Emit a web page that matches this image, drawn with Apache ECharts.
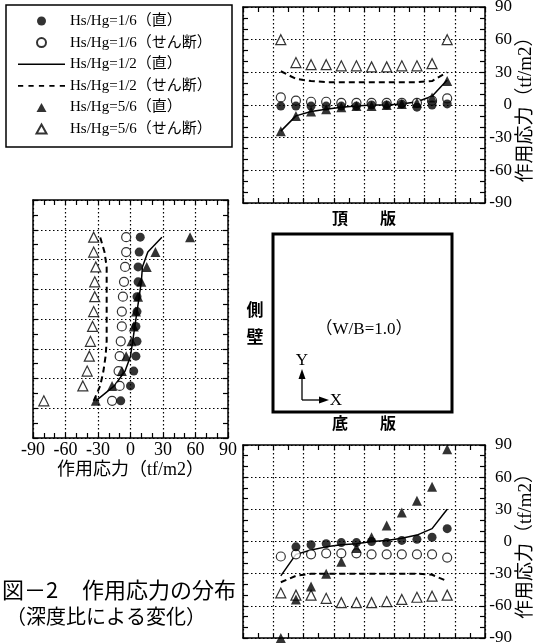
<!DOCTYPE html>
<html><head><meta charset="utf-8">
<script src="https://cdn.jsdelivr.net/npm/echarts@6/dist/echarts.min.js"></script>
<style>html,body{margin:0;padding:0;background:#fff}#c{width:537px;height:644px}</style>
</head><body><div id="c"></div>
<script>
// ---- data ----
const seriesNames = ['Hs/Hg=1/6（直）','Hs/Hg=1/6（せん断）','Hs/Hg=1/2（直）','Hs/Hg=1/2（せん断）','Hs/Hg=5/6（直）','Hs/Hg=5/6（せん断）'];
const positions = [2.5,3.5,4.5,5.5,6.5,7.5,8.5,9.5,10.5,11.5,12.5,13.5];
const stressMin = -90, stressMax = 90, stressStep = 30;
const posMin = 0, posMax = 16, posStep = 2;

// 頂版 (top slab), left -> right
const topHs16Direct = [-1,-1,-1,-1,-1,-1,0,0,1,-2,0,1];
const topHs16Shear  = [7,4,3,3,2,2,2,2,2,2,4,6];
const topHs12Direct = [-24,-10,-6,-4,-2,-1,0,0,1,3,8,23];
const topHs12Shear  = [31,24,22,21,21,21,21,21,21,21,22,30];
const topHs56Direct = [-24,-10,-6,-4,-2,-1,-1,0,1,2,7,22];
const topHs56Shear  = [60,39,37,37,36,36,35,35,36,36,38,60];

// 側壁 (side wall), bottom -> top
const sideHs16Direct = [-9,0,3,5,6,5,6,6,7,7,8,9];
const sideHs16Shear  = [-17,-10,-11,-10,-9,-8,-8,-7,-6,-5,-4,-4];
const sideHs12Direct = [-32,-15,-5,0,2,4,6,8,10,11,16,29];
const sideHs12Shear  = [-34,-28,-25,-23,-22,-22,-22,-22,-22,-22,-24,-28];
const sideHs56Direct = [-32,-17,-8,-4,1,3,5,7,10,15,23,55];
const sideHs56Shear  = [-80,-44,-40,-38,-37,-35,-34,-33,-33,-32,-34,-34];

// 底版 (bottom slab), left -> right
const botHs16Direct = [null,-5,-3,-2,-1,-1,0,-1,1,2,4,12];
const botHs16Shear  = [-14,-12,-12,-11,-11,-11,-12,-12,-12,-12,-12,-15];
const botHs12Direct = [-32,-12,-8,-5,-3,-2,0,1,3,6,12,30];
const botHs12Shear  = [-38,-32,-30,-30,-30,-30,-30,-30,-30,-30,-31,-37];
const botHs56Direct = [-90,-54,-42,-30,-19,-6,4,15,27,38,51,86];
const botHs56Shear  = [-48,-50,-50,-53,-57,-57,-57,-56,-54,-52,-51,-50];

// ---- styles ----
const SERIF = '"Liberation Serif", "Noto Sans CJK JP", serif';
const CJK = '"Noto Sans CJK JP", sans-serif';
const styles = [
  {type:'scatter', symbol:'circle', symbolSize:9, itemStyle:{color:'#000'}, z:5},
  {type:'scatter', symbol:'circle', symbolSize:9, itemStyle:{color:'#fff', borderColor:'#000', borderWidth:1.2}, z:4},
  {type:'line', symbol:'none', lineStyle:{color:'#000', width:1.5}, itemStyle:{color:'#000'}, z:2},
  {type:'line', symbol:'none', lineStyle:{color:'#000', width:2, type:[6,4]}, itemStyle:{color:'#000'}, z:2},
  {type:'scatter', symbol:'triangle', symbolSize:10, itemStyle:{color:'#000'}, z:6},
  {type:'scatter', symbol:'triangle', symbolSize:10, itemStyle:{color:'#fff', borderColor:'#000', borderWidth:1.2}, z:4}
];

function mk(idx, gridIdx, values, vertical) {
  const s = Object.assign({}, styles[idx]);
  s.name = seriesNames[idx];
  s.xAxisIndex = gridIdx * 2;
  s.yAxisIndex = gridIdx * 2;
  s.animation = false;
  const data = [];
  positions.forEach((p, i) => {
    const v = values[i];
    if (v === null || v === undefined) return;
    data.push(vertical ? [v, p] : [p, v]);
  });
  s.data = data;
  return s;
}

const series = [];
[topHs16Direct, topHs16Shear, topHs12Direct, topHs12Shear, topHs56Direct, topHs56Shear].forEach((v,i)=>series.push(mk(i,0,v,false)));
[sideHs16Direct, sideHs16Shear, sideHs12Direct, sideHs12Shear, sideHs56Direct, sideHs56Shear].forEach((v,i)=>series.push(mk(i,1,v,true)));
[botHs16Direct, botHs16Shear, botHs12Direct, botHs12Shear, botHs56Direct, botHs56Shear].forEach((v,i)=>series.push(mk(i,2,v,false)));

// ---- axes ----
const lineS = {show:true, onZero:false, lineStyle:{color:'#000', width:1.5}};
const tickS = {show:true, inside:true, length:5, lineStyle:{color:'#000', width:1.2}};
const gridLine = {show:true, lineStyle:{color:'#000', width:1.2, type:[1.5,2.5]}};
const noSplit = {show:false};

function posAxis(gridIndex, position, split) {
  return {type:'value', gridIndex, position, min:posMin, max:posMax, interval:posStep,
    axisLine:lineS, axisTick:tickS,
    minorTick:{show:true, splitNumber:2, length:5, lineStyle:{color:'#000', width:1.2}},
    axisLabel:{show:false}, splitLine: split ? gridLine : noSplit};
}
function stressAxis(gridIndex, position, split, labels, name) {
  const a = {type:'value', gridIndex, position, min:stressMin, max:stressMax, interval:stressStep,
    axisLine:lineS, axisTick:tickS,
    minorTick:{show:true, splitNumber:3, length:5, lineStyle:{color:'#000', width:1.2}},
    axisLabel: labels ? Object.assign({show:true, color:'#000', fontFamily:SERIF, fontSize:17}, labels) : {show:false},
    splitLine: split ? gridLine : noSplit};
  if (name) Object.assign(a, name);
  return a;
}
const yName = {name:'作用応力（tf/m2）', nameLocation:'middle', nameGap:32,
  nameTextStyle:{color:'#000', fontFamily:SERIF, fontSize:19}};

// legend icons (keep-aspect paths)
const ICON_LINE = 'path://M0,0h47v1.5h-47z';
const ICON_DASH = 'path://M0,0h5v1.6h-5z M10,0h5v1.6h-5z M20,0h5v1.6h-5z M30,0h5v1.6h-5z M40,0h5v1.6h-5z';
const ICON_TRI = 'path://M5,0L10,9L0,9Z';

const option = {
  animation:false,
  backgroundColor:'#fff',
  grid:[
    {left:243, top:7, width:242, height:196, outerBoundsMode:'none'},
    {left:33, top:200, width:195, height:238, outerBoundsMode:'none'},
    {left:243, top:445, width:242, height:193, outerBoundsMode:'none'}
  ],
  xAxis:[
    posAxis(0,'bottom',true), posAxis(0,'top',false),
    stressAxis(1,'bottom',true,{margin:3, fontSize:18},{name:'作用応力（tf/m2）', nameLocation:'middle', nameGap:23,
      nameTextStyle:{color:'#000', fontFamily:SERIF, fontSize:18}}),
    stressAxis(1,'top',false,null,null),
    posAxis(2,'bottom',true), posAxis(2,'top',false)
  ],
  yAxis:[
    stressAxis(0,'left',true,null,null), stressAxis(0,'right',false,{margin:27, align:'right', padding:[4,0,0,0]},yName),
    posAxis(1,'left',true), posAxis(1,'right',false),
    stressAxis(2,'left',true,null,null), stressAxis(2,'right',false,{margin:27, align:'right'},yName)
  ],
  legend:{
    orient:'vertical', left:18, top:13, itemWidth:47, itemHeight:9, itemGap:5.6, padding:0,
    symbolKeepAspect:true, selectedMode:false,
    data:[
      {name:seriesNames[0], icon:'circle'},
      {name:seriesNames[1], icon:'circle'},
      {name:seriesNames[2], icon:ICON_LINE},
      {name:seriesNames[3], icon:ICON_DASH},
      {name:seriesNames[4], icon:ICON_TRI},
      {name:seriesNames[5], icon:ICON_TRI}
    ],
    textStyle:{color:'#000', fontFamily:SERIF, fontSize:15, lineHeight:16}
  },
  graphic:[
    {type:'rect', shape:{x:6,y:5,width:226,height:142}, style:{fill:'none', stroke:'#000', lineWidth:1.5}},
    {type:'rect', shape:{x:273,y:234,width:179,height:178}, style:{fill:'none', stroke:'#000', lineWidth:3}},
    {type:'text', x:364, y:218, style:{text:'頂　　版', font:'bold 16px '+CJK, align:'center', verticalAlign:'middle', fill:'#000'}},
    {type:'text', x:364, y:423, style:{text:'底　　版', font:'bold 16px '+CJK, align:'center', verticalAlign:'middle', fill:'#000'}},
    {type:'text', x:255, y:310, style:{text:'側', font:'bold 17px '+CJK, align:'center', verticalAlign:'middle', fill:'#000'}},
    {type:'text', x:255, y:337, style:{text:'壁', font:'bold 17px '+CJK, align:'center', verticalAlign:'middle', fill:'#000'}},
    {type:'text', x:364, y:330, style:{text:'（W/B=1.0）', font:'17px '+SERIF, align:'center', verticalAlign:'middle', fill:'#000'}},
    {type:'polyline', shape:{points:[[302,400],[302,376]]}, style:{stroke:'#000', lineWidth:1.3}},
    {type:'polygon', shape:{points:[[298.5,379],[305.5,379],[302,369]]}, style:{fill:'#000'}},
    {type:'polyline', shape:{points:[[302,400],[322,400]]}, style:{stroke:'#000', lineWidth:1.3}},
    {type:'polygon', shape:{points:[[319,396.5],[319,403.5],[329,400]]}, style:{fill:'#000'}},
    {type:'text', x:302, y:361, style:{text:'Y', font:'17px '+SERIF, align:'center', verticalAlign:'middle', fill:'#000'}},
    {type:'text', x:336, y:401, style:{text:'X', font:'17px '+SERIF, align:'center', verticalAlign:'middle', fill:'#000'}},
    {type:'text', x:2, y:590, style:{text:'図－2', font:'22px '+CJK, align:'left', verticalAlign:'middle', fill:'#000'}},
    {type:'text', x:82, y:590, style:{text:'作用応力の分布', font:'22px '+CJK, align:'left', verticalAlign:'middle', fill:'#000'}},
    {type:'text', x:6, y:616, style:{text:'（深度比による変化）', font:'20px '+CJK, align:'left', verticalAlign:'middle', fill:'#000'}}
  ],
  series
};
const chart = echarts.init(document.getElementById('c'), null, {renderer:'canvas'});
chart.setOption(option);
</script></body></html>
